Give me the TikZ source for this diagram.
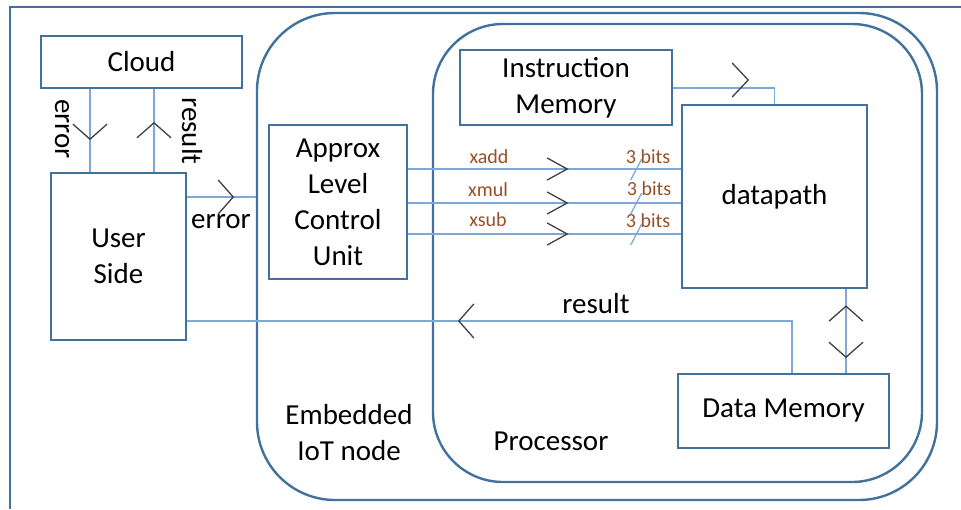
\documentclass[tikz,border=0pt]{standalone}
\usepackage{fontspec}
\setmainfont{Carlito}
\usetikzlibrary{decorations.markings}
\definecolor{boxc}{RGB}{65,113,156}
\definecolor{connc}{RGB}{125,168,215}
\definecolor{chevc}{RGB}{64,64,64}
\definecolor{labc}{RGB}{150,80,40}
\tikzset{
  frameline/.style={draw=boxc, line width=2.8pt},
  box/.style={draw=boxc, line width=2.4pt, inner sep=0pt, align=center},
  conn/.style={draw=connc, line width=1.3pt},
  chev/.style={draw=chevc, line width=1.3pt},
  txt/.style={inner sep=0pt, align=center},
  small/.style={inner sep=0pt, text=labc, font=\fontsize{20}{24}\selectfont},
  fwdarr/.style={postaction={decorate}, decoration={markings,
      mark=at position #1 with {\draw[chev] (-15pt,17pt) -- (0pt,0pt) -- (-15pt,-17pt);}}},
  fwdarrup/.style={postaction={decorate}, decoration={markings,
      mark=at position #1 with {\draw[chev] (-16pt,25pt) -- (0pt,8pt) -- (-16pt,-9pt);}}},
  bidir/.style 2 args={postaction={decorate}, decoration={markings,
      mark=at position #1 with {\draw[chev] (15pt,17pt) -- (0pt,0pt) -- (15pt,-17pt);},
      mark=at position #2 with {\draw[chev] (-15pt,17pt) -- (0pt,0pt) -- (-15pt,-17pt);}}},
  bitarr/.style={postaction={decorate}, decoration={markings,
      mark=at position 159pt with {\draw[chev] (-20pt,11pt) -- (0pt,0pt) -- (-20pt,-11pt);},
      mark=at position 228pt with {\draw[conn] (-5.5pt,-11pt) -- (5.5pt,10pt);}}}
}
\begin{document}
\begin{tikzpicture}[x=1pt,y=-1pt,font=\fontsize{29}{36}\selectfont]
\useasboundingbox (0,0) rectangle (961,509);
% outer frame
\draw[frameline] (10,509) -- (10,7) -- (961,7);
% containers
\node[box, rounded corners=78pt, minimum width=680pt, minimum height=487pt] (emb) at (597,256.5) {};
\node[box, rounded corners=70pt, minimum width=489pt, minimum height=458pt] (proc) at (677.5,253) {};
% boxes
\node[box, minimum width=201pt, minimum height=52pt] (cloud) at (141.5,62) {Cloud};
\node[box, minimum width=135pt, minimum height=167pt] (user) at (118.5,256.5) {User\\Side};
\node[box, minimum width=138pt, minimum height=154pt] (alcu) at (338,202) {Approx\\Level\\Control\\Unit};
\node[box, minimum width=212pt, minimum height=75pt] (imem) at (566,87.5) {Instruction\\Memory};
\node[box, minimum width=185pt, minimum height=183pt] (dp) at (774.5,196.5) {datapath};
\node[box, minimum width=211pt, minimum height=74pt] (dmem) at (783.5,411) {Data Memory};
% labels
\node[txt] (lemb) at (349,433) {Embedded\\IoT node};
\node[txt] (lproc) at (551,441) {Processor};
\node[txt] (lres) at (596,304) {result};
\node[txt] (lerr) at (221,222) {error};
\node[txt, rotate=-90] (lerrv) at (62,129) {error};
\node[txt, rotate=-90] (lresv) at (192,131) {result};
\node[small] (la) at (489,157) {xadd};
\node[small] (lm) at (488,190) {xmul};
\node[small] (ls) at (488,220) {xsub};
\node[small] (ba) at (648,157) {3 bits};
\node[small] (bm) at (649,189) {3 bits};
\node[small] (bs) at (648,221) {3 bits};
% connectors
\draw[conn, fwdarr=50pt] (cloud.south -| 90,0) -- (user.north -| 90,0);
\draw[conn, fwdarr=49pt] (user.north -| 154,0) -- (cloud.south -| 154,0);
\draw[conn, fwdarr=46pt] (user.east |- 0,197) -- (emb.west |- 0,197);
\draw[conn, bitarr] (alcu.east |- 0,169) -- (dp.west |- 0,169);
\draw[conn, bitarr] (alcu.east |- 0,203) -- (dp.west |- 0,203);
\draw[conn, bitarr] (alcu.east |- 0,234) -- (dp.west |- 0,234);
\draw[conn, fwdarrup=75pt] (imem.east |- 0,88) -| (dp.north);
\draw[conn, bidir={17pt}{68pt}] (dp.south -| 846,0) -- (dmem.north -| 846,0);
\draw[conn, fwdarr=385pt] (dmem.north -| 792,0) |- (user.east |- 0,321);
\end{tikzpicture}
\end{document}
